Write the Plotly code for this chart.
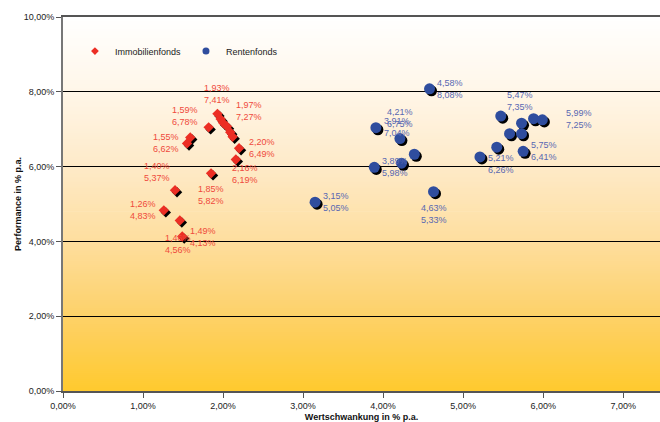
import plotly.graph_objects as go

# ---------------- data ----------------
immo_name = "Immobilienfonds"
immo_x = [1.93, 1.97, 2.00, 2.05, 2.09, 2.12, 1.82, 1.59, 1.55, 2.20, 2.16, 1.85, 1.40, 1.26, 1.46, 1.49]
immo_y = [7.41, 7.27, 7.17, 7.07, 6.92, 6.80, 7.05, 6.78, 6.62, 6.49, 6.19, 5.82, 5.37, 4.83, 4.56, 4.13]

rent_name = "Rentenfonds"
rent_x = [3.15, 3.89, 3.91, 4.21, 4.23, 4.39, 4.58, 4.63, 5.21, 5.42, 5.47, 5.58, 5.73, 5.73, 5.75, 5.88, 5.99]
rent_y = [5.05, 5.98, 7.04, 6.75, 6.09, 6.33, 8.08, 5.33, 6.26, 6.52, 7.35, 6.88, 6.88, 7.16, 6.41, 7.28, 7.25]

x_tick_vals = [0, 1, 2, 3, 4, 5, 6, 7]
x_tick_text = ["0,00%", "1,00%", "2,00%", "3,00%", "4,00%", "5,00%", "6,00%", "7,00%"]
y_tick_vals = [0, 2, 4, 6, 8, 10]
y_tick_text = ["0,00%", "2,00%", "4,00%", "6,00%", "8,00%", "10,00%"]

x_title = "Wertschwankung in % p.a."
y_title = "Performance in % p.a."

# ---------------- style ----------------
X_RANGE = [0, 7.46]
Y_RANGE = [0, 10]
RED = "#EC2E24"
BLUE = "#2F4D9E"
RED_TXT = "#EF4A3C"
BLUE_TXT = "#5868B2"
FONT = "Arial, Liberation Sans, sans-serif"
SHADOW_DX = 0.025   # about 2 px
SHADOW_DY = 0.055   # about 2 px

# label pixel shifts per point (None = no label)
immo_shift = [(0, 20), (28, 8), None, None, None, None, None, (-5, 21), (-21, 0), (23, 0),
              (9, -15), (0, -22), (-18, 18), (-21, 0), (-2, -24), (21, 0)]
rent_shift = [(21, 0), (21, 0), (21, 1), (0, 21), None, None, (20, 0), (0, -22), (21, -7), None,
              (19, 15), None, None, None, (21, 0), None, (37, 1)]


def pct(v):
    return f"{v:.2f}".replace(".", ",") + "%"


fig = go.Figure()

# shadows + series
fig.add_trace(go.Scatter(x=[v + SHADOW_DX for v in immo_x], y=[v - SHADOW_DY for v in immo_y],
                         mode="markers", showlegend=False, hoverinfo="skip",
                         marker=dict(symbol="diamond", size=8, color="black")))
fig.add_trace(go.Scatter(x=immo_x, y=immo_y, mode="markers", name=immo_name, showlegend=False,
                         marker=dict(symbol="diamond", size=8, color=RED)))
fig.add_trace(go.Scatter(x=[v + SHADOW_DX for v in rent_x], y=[v - SHADOW_DY for v in rent_y],
                         mode="markers", showlegend=False, hoverinfo="skip",
                         marker=dict(symbol="circle", size=11, color="black")))
fig.add_trace(go.Scatter(x=rent_x, y=rent_y, mode="markers", name=rent_name, showlegend=False,
                         marker=dict(symbol="circle", size=11, color=BLUE)))
# legend entries (small symbols, as in the reference legend)
fig.add_trace(go.Scatter(x=[None], y=[None], mode="markers", name=immo_name,
                         marker=dict(symbol="diamond", size=6, color=RED)))
fig.add_trace(go.Scatter(x=[None], y=[None], mode="markers", name=rent_name,
                         marker=dict(symbol="circle", size=7, color=BLUE)))

annotations = []
for xs, ys, shifts, col in [(immo_x, immo_y, immo_shift, RED_TXT), (rent_x, rent_y, rent_shift, BLUE_TXT)]:
    for xv, yv, sh in zip(xs, ys, shifts):
        if sh is None:
            continue
        annotations.append(dict(x=xv, y=yv, xref="x", yref="y", text=pct(xv) + "<br>" + pct(yv),
                                showarrow=False, xshift=sh[0], yshift=sh[1],
                                font=dict(size=9, color=col, family=FONT), align="left"))

# vertical gradient background (strips below gridlines)
stops = [(0.00, (255, 202, 46)), (0.15, (254, 207, 90)), (0.25, (253, 212, 118)),
         (0.40, (254, 222, 158)), (0.60, (254, 234, 200)), (0.80, (255, 246, 232)),
         (1.00, (255, 255, 255))]


def interp(t):
    for (t0, c0), (t1, c1) in zip(stops[:-1], stops[1:]):
        if t0 <= t <= t1:
            f = (t - t0) / (t1 - t0)
            return "rgb(%d,%d,%d)" % tuple(round(a + (b - a) * f) for a, b in zip(c0, c1))
    return "rgb(255,255,255)"


shapes = []
N = 190
for i in range(N):
    t0 = i / N
    t1 = (i + 1) / N
    shapes.append(dict(type="rect", xref="paper", yref="paper", x0=0, x1=1, y0=t0, y1=t1 + 0.002,
                       fillcolor=interp((t0 + t1) / 2), line=dict(width=0), layer="below"))

fig.update_layout(
    width=660, height=422,
    margin=dict(l=63, r=0, t=17, b=31),
    paper_bgcolor="white", plot_bgcolor="white",
    font=dict(family=FONT, size=9, color="#222"),
    shapes=shapes, annotations=annotations,
    legend=dict(orientation="h", x=0.02, y=0.909, xanchor="left", yanchor="middle",
                bgcolor="rgba(0,0,0,0)", font=dict(size=9, color="#222")),
    hovermode=False,
)
fig.update_xaxes(range=X_RANGE, tickvals=x_tick_vals, ticktext=x_tick_text, ticks="outside",
                 ticklen=5, tickcolor="#555", showline=True, linecolor="#555", linewidth=2,
                 mirror=True, showgrid=False, zeroline=False, automargin=False,
                 title=dict(text="<b>" + x_title + "</b>", standoff=4, font=dict(size=9, color="#111")))
fig.update_yaxes(range=Y_RANGE, tickvals=y_tick_vals, ticktext=y_tick_text, ticks="outside",
                 ticklen=5, tickcolor="#555", showline=True, linecolor="#777", linewidth=2,
                 showgrid=True, gridcolor="black", gridwidth=1, zeroline=False, automargin=False,
                 title=dict(text="<b>" + y_title + "</b>", standoff=1, font=dict(size=9, color="#111")))

fig.write_html("out.html", config={"displayModeBar": False},
               post_script="document.body.style.margin='0px';")
